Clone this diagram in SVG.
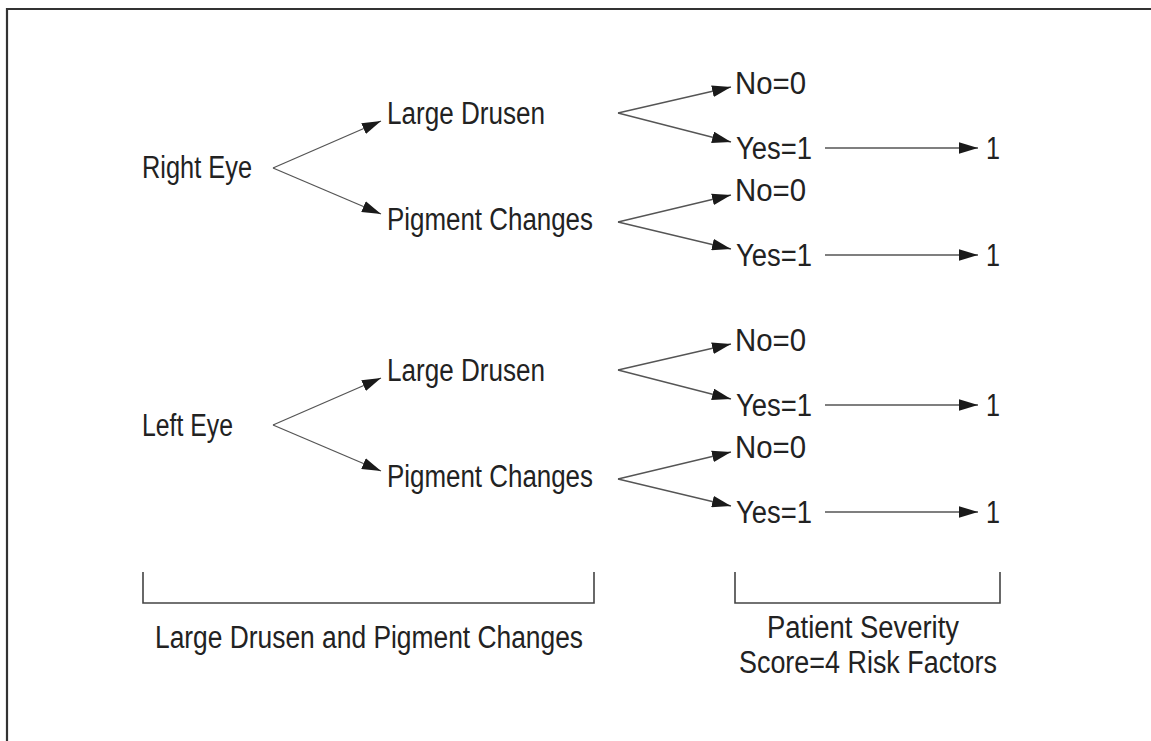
<svg xmlns="http://www.w3.org/2000/svg" width="1151" height="741" viewBox="0 0 1151 741">
<defs>
<style>
text{font-family:"Liberation Sans",Arial,sans-serif;font-size:31px;fill:#222}
.c line{stroke:#555;stroke-width:1.3;marker-end:url(#ah)}
.br{fill:none;stroke:#444;stroke-width:1.6}
.fr{fill:none;stroke:#333;stroke-width:2.2}
</style>
<marker id="ah" markerUnits="userSpaceOnUse" markerWidth="19" markerHeight="12" refX="18" refY="5.5" orient="auto" viewBox="0 0 18 11">
<path d="M0,0 L18,5.5 L0,11 z" fill="#1a1a1a"/>
</marker>
</defs>
<rect width="1151" height="741" fill="#fff"/>
<path class="fr" d="M7,741 V9 H1151"/>

<g id="right-eye"><text x="142" y="178" textLength="110" lengthAdjust="spacingAndGlyphs">Right Eye</text></g>
<g id="r-large-drusen"><text x="387" y="124" textLength="158" lengthAdjust="spacingAndGlyphs">Large Drusen</text></g>
<g id="r-pigment"><text x="387" y="230" textLength="206" lengthAdjust="spacingAndGlyphs">Pigment Changes</text></g>
<g id="r-ld-no"><text x="735" y="94" textLength="71" lengthAdjust="spacingAndGlyphs">No=0</text></g>
<g id="r-ld-yes"><text x="736" y="159" textLength="76" lengthAdjust="spacingAndGlyphs">Yes=1</text></g>
<g id="r-ld-score"><text x="986" y="159" textLength="14" lengthAdjust="spacingAndGlyphs">1</text></g>
<g id="r-pc-no"><text x="735" y="201" textLength="71" lengthAdjust="spacingAndGlyphs">No=0</text></g>
<g id="r-pc-yes"><text x="736" y="266" textLength="76" lengthAdjust="spacingAndGlyphs">Yes=1</text></g>
<g id="r-pc-score"><text x="986" y="266" textLength="14" lengthAdjust="spacingAndGlyphs">1</text></g>

<g id="left-eye"><text x="142" y="436" textLength="91" lengthAdjust="spacingAndGlyphs">Left Eye</text></g>
<g id="l-large-drusen"><text x="387" y="381" textLength="158" lengthAdjust="spacingAndGlyphs">Large Drusen</text></g>
<g id="l-pigment"><text x="387" y="487" textLength="206" lengthAdjust="spacingAndGlyphs">Pigment Changes</text></g>
<g id="l-ld-no"><text x="735" y="351" textLength="71" lengthAdjust="spacingAndGlyphs">No=0</text></g>
<g id="l-ld-yes"><text x="736" y="416" textLength="76" lengthAdjust="spacingAndGlyphs">Yes=1</text></g>
<g id="l-ld-score"><text x="986" y="416" textLength="14" lengthAdjust="spacingAndGlyphs">1</text></g>
<g id="l-pc-no"><text x="735" y="458" textLength="71" lengthAdjust="spacingAndGlyphs">No=0</text></g>
<g id="l-pc-yes"><text x="736" y="523" textLength="76" lengthAdjust="spacingAndGlyphs">Yes=1</text></g>
<g id="l-pc-score"><text x="986" y="523" textLength="14" lengthAdjust="spacingAndGlyphs">1</text></g>

<g id="bracket-left">
<path class="br" d="M143,572 V603 H594 V572"/>
<text x="155" y="648" textLength="428" lengthAdjust="spacingAndGlyphs">Large Drusen and Pigment Changes</text>
</g>
<g id="bracket-right">
<path class="br" d="M735,572 V603 H1000 V572"/>
<text x="767" y="638" textLength="192" lengthAdjust="spacingAndGlyphs">Patient Severity</text>
<text x="739" y="673" textLength="258" lengthAdjust="spacingAndGlyphs">Score=4 Risk Factors</text>
</g>

<g id="connectors" class="c">
<line x1="273" y1="168" x2="381" y2="121"/>
<line x1="273" y1="168" x2="381" y2="214"/>
<line x1="618" y1="113" x2="731" y2="87"/>
<line x1="618" y1="113" x2="731" y2="142"/>
<line x1="618" y1="222" x2="731" y2="195"/>
<line x1="618" y1="222" x2="731" y2="249"/>
<line x1="825" y1="148" x2="978" y2="148"/>
<line x1="825" y1="255" x2="978" y2="255"/>

<line x1="273" y1="425" x2="381" y2="378"/>
<line x1="273" y1="425" x2="381" y2="471"/>
<line x1="618" y1="370" x2="731" y2="344"/>
<line x1="618" y1="370" x2="731" y2="399"/>
<line x1="618" y1="479" x2="731" y2="452"/>
<line x1="618" y1="479" x2="731" y2="506"/>
<line x1="825" y1="405" x2="978" y2="405"/>
<line x1="825" y1="512" x2="978" y2="512"/>
</g>
</svg>
